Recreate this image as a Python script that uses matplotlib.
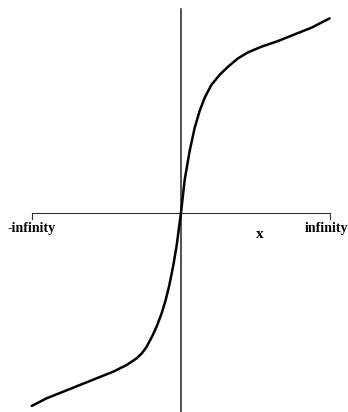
import matplotlib
matplotlib.use('Agg')
import matplotlib.pyplot as plt
import numpy as np

# curve, in picture units (origin to "infinity" = 149)
UNIT = 149.0
curve_x = [-149.3, -134.3, -117.7, -101.0, -84.3, -67.7, -54.3, -44.3, -39.0, -34.3,
           -28.5, -24.0, -19.5, -15.5, -11.7, -7.7, -4.3, -1.7, 0.0,
           3.7, 8.7, 13.7, 18.7, 23.7, 30.3, 38.7, 47.0, 57.0, 67.0,
           80.3, 97.0, 113.7, 130.3, 148.7]
curve_y = [-193.3, -185.6, -179.0, -172.3, -165.6, -159.0, -152.3, -145.6, -140.5, -134.0,
           -123.0, -113.0, -101.0, -88.0, -72.6, -52.6, -32.6, -12.6, 0.0,
           33.0, 62.0, 85.0, 102.0, 115.0, 127.7, 138.0, 146.0, 154.4, 160.4,
           166.0, 171.7, 178.4, 185.0, 194.4]

axis_ends = [-1.0, 1.0]
end_labels = ['-infinity', 'infinity']
axis_label = 'x'


def draw_plot():
  fig = plt.figure(figsize=(3.48, 4.12), dpi=100)
  ax = fig.add_axes([0, 0, 1, 1])
  ax.set_xlim(-1.215, 1.121)
  ax.set_ylim(-1.338, 1.428)
  ax.axis('off')

  # horizontal axis with end ticks
  ax.plot(axis_ends, [0, 0], color='#333333', linewidth=0.8)
  for xe in axis_ends:
    ax.plot([xe, xe], [0, -0.04], color='#333333', linewidth=0.8)
  # vertical axis
  ax.plot([0, 0], [-1.4, 1.367], color='#222222', linewidth=1.1)

  x = np.array(curve_x) / UNIT
  y = np.array(curve_y) / UNIT
  ax.plot(x, y, color='black', linewidth=1.8, solid_capstyle='round',
          solid_joinstyle='round')

  font = dict(family='Liberation Serif', weight='bold', fontsize=10)
  ax.text(-1.168, -0.13, end_labels[0], ha='left', va='baseline', **font)
  ax.text(0.832, -0.13, end_labels[1], ha='left', va='baseline', **font)
  ax.text(0.527, -0.17, axis_label, ha='center', va='baseline',
          family='Liberation Serif', weight='bold', fontsize=11)

  fig.savefig('out.png', dpi=100, facecolor='white')


if __name__ == "__main__":
  draw_plot()
